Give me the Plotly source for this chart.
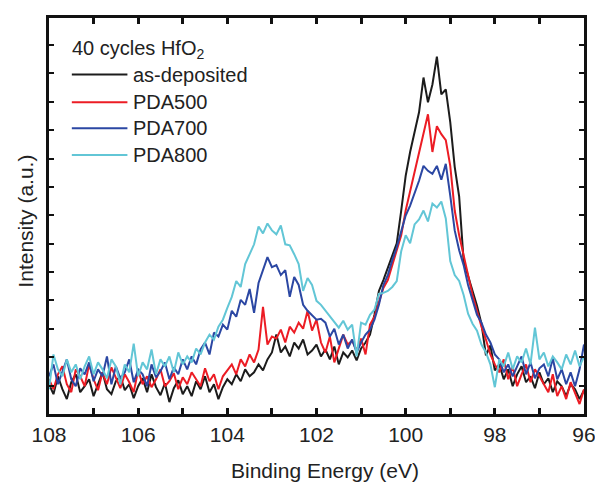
import numpy as np
import plotly.graph_objects as go

# Binding energy grid (eV), 108.0 -> 96.0 in 0.1 eV steps
energy = [round(108.0 - 0.1 * i, 1) for i in range(121)]

as_deposited = (
    [30, 20, 38, 25, 15, 32, 40, 22, 28, 35, 18, 30, 42, 25, 20, 33, 38, 24, 30, 16,
     28, 36, 22, 40, 27, 19, 31, 12, 26, 34, 20]
    + [28, 18, 33, 25, 38, 22, 30, 15, 27, 35]
    + [30, 40, 33, 45, 38, 42, 50, 44, 55, 62]
    + [80, 62, 68, 58, 72, 66, 75, 60, 64, 70]
    + [58, 65, 55, 68, 50, 62, 57, 64, 54, 66]
    + [72, 80, 100, 124, 135, 147, 160, 172, 205, 240]
    + [264, 284, 304, 339, 314, 332, 360, 322, 327, 294]
    + [249, 219, 154, 139, 124, 109, 91, 59, 69, 44]
    + [50, 35, 45, 28, 40, 48, 32, 38, 26, 42]
    + [30, 36, 22, 33, 28, 18, 30, 25, 15, 24]
)

pda500 = (
    [35, 25, 40, 48, 30, 22, 45, 38, 28, 50, 35, 24, 42, 30, 47, 36, 26, 40, 32, 22,
     44, 30, 38, 27, 35, 45, 28, 33, 41, 25, 37]
    + [30, 42, 35, 28, 46, 33, 40, 25, 38, 44]
    + [50, 40, 55, 48, 60, 52, 65, 108, 70, 78]
    + [76, 85, 72, 88, 82, 92, 86, 104, 84, 95]
    + [72, 62, 78, 52, 66, 80, 70, 74, 64, 76]
    + [60, 90, 98, 112, 127, 135, 150, 164, 180, 205]
    + [225, 244, 262, 284, 302, 264, 290, 282, 276, 250]
    + [205, 180, 160, 140, 120, 104, 88, 75, 60, 50]
    + [42, 55, 35, 48, 28, 40, 50, 32, 45, 38]
    + [30, 22, 40, 18, 28, 15, 32, 20, 10, 25]
)

pda700 = (
    [38, 50, 30, 42, 55, 35, 28, 46, 40, 52, 33, 45, 38, 58, 30, 48, 36, 42, 55, 32,
     45, 40, 28, 50, 37, 43, 52, 35, 47, 40, 55]
    + [45, 58, 50, 65, 72, 60, 82, 78, 90, 85]
    + [104, 98, 115, 110, 126, 102, 132, 145, 158, 148]
    + [150, 140, 145, 118, 138, 130, 110, 104, 100, 95]
    + [96, 92, 78, 86, 70, 80, 66, 75, 62, 72]
    + [80, 85, 95, 110, 130, 140, 155, 168, 184, 200]
    + [210, 222, 235, 250, 245, 242, 250, 236, 252, 220]
    + [185, 165, 150, 130, 115, 100, 92, 80, 72, 60]
    + [55, 42, 50, 38, 48, 58, 40, 52, 36, 46]
    + [50, 38, 56, 35, 45, 30, 42, 28, 45, 70]
)

pda800 = (
    [25, 60, 45, 38, 55, 42, 50, 35, 48, 58, 40, 52, 45, 36, 55, 48, 30, 50, 42, 71,
     38, 52, 45, 65, 40, 55, 48, 58, 42, 62, 50]
    + [58, 52, 66, 60, 72, 80, 75, 88, 95, 107]
    + [118, 134, 128, 151, 162, 171, 189, 182, 192, 185]
    + [181, 190, 171, 170, 161, 151, 124, 137, 130, 114]
    + [110, 104, 98, 92, 87, 94, 85, 90, 58, 92]
    + [90, 100, 105, 121, 122, 124, 128, 134, 164, 180]
    + [172, 191, 196, 205, 194, 212, 208, 214, 197, 154]
    + [140, 134, 120, 101, 91, 84, 70, 62, 50, 27]
    + [55, 48, 62, 45, 58, 52, 66, 50, 87, 55]
    + [62, 48, 58, 52, 45, 60, 50, 64, 48, 58]
)

series_names = ["as-deposited", "PDA500", "PDA700", "PDA800"]
series_values = [as_deposited, pda500, pda700, pda800]
series_colors = ["#1c1c1c", "#ec1c24", "#2b47a3", "#62c6d6"]
legend_title = "40 cycles HfO<sub>2</sub>"

x_tickvals = [108, 106, 104, 102, 100, 98, 96]
x_ticktext = ["108", "106", "104", "102", "100", "98", "96"]

FONT = "Liberation Sans, Arial, sans-serif"

fig = go.Figure()
for name, vals, col in zip(series_names, series_values, series_colors):
    assert len(vals) == len(energy), (name, len(vals))
    fig.add_trace(go.Scatter(x=energy, y=vals, mode="lines", name=name,
                             line=dict(color=col, width=2), showlegend=False))

# page body has an 8px default margin: size/position the figure to compensate
OFF = 8
W, H = 603 - OFF, 486 - OFF
L, R, T, B = 49 - OFF, 588 - OFF, 15 - OFF, 414 - OFF


def px(xp):
    return (xp - OFF - L) / (R - L)


def py(yp):
    return (B - (yp - OFF)) / (B - T)


fig.update_layout(
    width=W, height=H,
    margin=dict(l=L, r=W - R, t=T, b=H - B, pad=0),
    plot_bgcolor="white", paper_bgcolor="white",
    font=dict(family=FONT, size=21, color="#222"),
    xaxis=dict(range=[108, 96], tickvals=x_tickvals, ticktext=x_ticktext,
               ticks="inside", ticklen=6, tickwidth=3, tickcolor="#111",
               minor=dict(dtick=1, ticks="inside", ticklen=6, tickwidth=3, tickcolor="#111"),
               showline=True, linewidth=3, linecolor="#111", mirror="allticks",
               showgrid=False, zeroline=False, tickfont=dict(size=21)),
    yaxis=dict(range=[0, 399], dtick=28.6, tick0=0, showticklabels=False,
               ticks="inside", ticklen=5, tickwidth=2, tickcolor="#111",
               showline=True, linewidth=3, linecolor="#111", mirror="allticks",
               showgrid=False, zeroline=False),
)

annotations = [
    dict(text="Binding Energy (eV)", x=px(327), y=py(471), xref="paper", yref="paper",
         xanchor="center", yanchor="middle", showarrow=False, font=dict(size=21)),
    dict(text="Intensity (a.u.)", x=px(25), y=py(220), xref="paper", yref="paper",
         xanchor="center", yanchor="middle", textangle=-90, showarrow=False,
         font=dict(size=21)),
    dict(text=legend_title, x=px(70), y=py(47), xref="paper", yref="paper",
         xanchor="left", yanchor="middle", showarrow=False, font=dict(size=20)),
]
legend_y = [72, 100, 126, 153]
shapes = []
for name, col, ly in zip(series_names, series_colors, legend_y):
    shapes.append(dict(type="line", xref="paper", yref="paper", x0=px(72), x1=px(128),
                       y0=py(ly), y1=py(ly), line=dict(color=col, width=2)))
    annotations.append(dict(text=name, x=px(132), y=py(ly), xref="paper", yref="paper",
                            xanchor="left", yanchor="middle", showarrow=False,
                            font=dict(size=20)))
fig.update_layout(annotations=annotations, shapes=shapes)

fig.write_html("out.html")
